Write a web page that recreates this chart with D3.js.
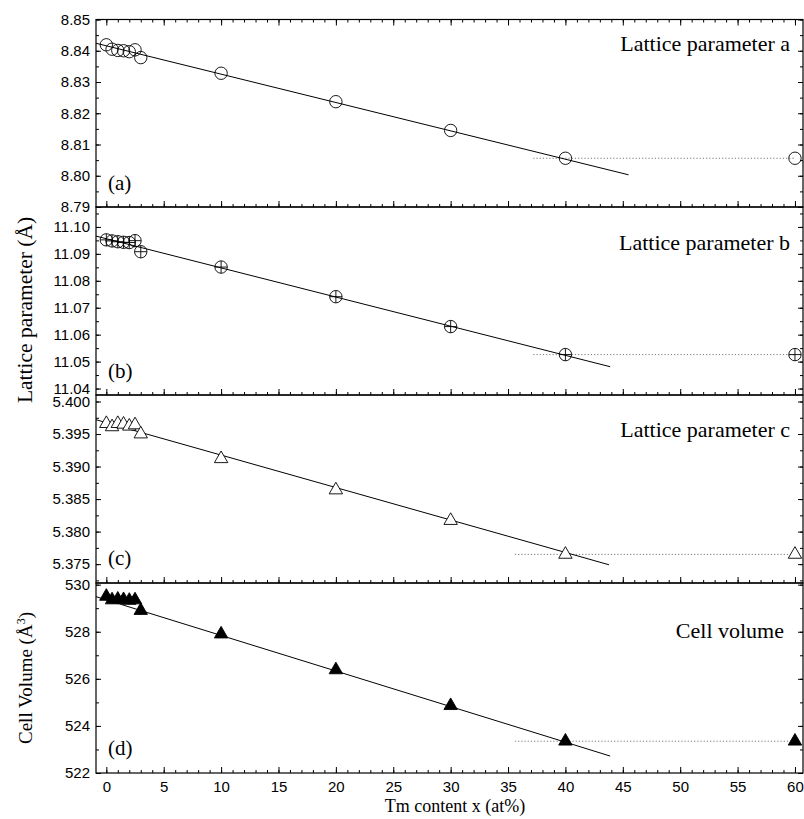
<!DOCTYPE html>
<html>
<head>
<meta charset="utf-8">
<script src="https://cdn.jsdelivr.net/npm/d3@7"></script>
<style>
  body { margin: 0; background: #fff; }
  svg text { fill: #000; }
</style>
</head>
<body>
<svg id="chart" width="804" height="819"></svg>
<script>
// Tm content (at%) of each sample
const tmContent = [0, 0.5, 1, 1.5, 2, 2.5, 3, 10, 20, 30, 40, 60];

// Refined lattice parameters (Å) and cell volume (Å^3)
const latticeA = [8.8419, 8.8405, 8.8401, 8.8400, 8.8397, 8.8403, 8.8378, 8.8328, 8.8237, 8.8145, 8.8056, 8.8056];
const latticeB = [11.0952, 11.0948, 11.0945, 11.0943, 11.0942, 11.0949, 11.0908, 11.0851, 11.0741, 11.0630, 11.0526, 11.0526];
const latticeC = [5.3966, 5.3961, 5.3966, 5.3965, 5.3962, 5.3964, 5.3950, 5.3912, 5.3864, 5.3817, 5.3765, 5.3765];
const cellVolume = [529.50, 529.35, 529.38, 529.36, 529.33, 529.35, 528.90, 527.90, 526.38, 524.86, 523.35, 523.35];

// Linear (Vegard) fits: [x, value] end points
const fitA = [[-0.9, 8.8424], [45.5, 8.8003]];
const fitB = [[-0.9, 11.0966], [43.9, 11.0481]];
const fitC = [[-0.9, 5.3972], [43.8, 5.3749]];
const fitV = [[-0.9, 529.49], [43.9, 522.72]];

// Solubility-limit plateaus (dotted)
const plateauA = [[37.2, 8.8056], [60, 8.8056]];
const plateauB = [[37.2, 11.0526], [60, 11.0526]];
const plateauC = [[35.6, 5.3765], [60, 5.3765]];
const plateauV = [[35.6, 523.35], [60, 523.35]];

// Tick values
const xMajorTicks = [0, 5, 10, 15, 20, 25, 30, 35, 40, 45, 50, 55, 60];
const xMinorTicks = d3.range(0, 61, 1);
const ticksA = [8.79, 8.80, 8.81, 8.82, 8.83, 8.84, 8.85];
const ticksB = [11.04, 11.05, 11.06, 11.07, 11.08, 11.09, 11.10];
const ticksC = [5.375, 5.380, 5.385, 5.390, 5.395, 5.400];
const ticksV = [522, 524, 526, 528, 530];

const svg = d3.select("#chart");
const left = 96, right = 803;
const x = d3.scaleLinear().domain([-0.9, 60.7]).range([left, right]);

const panels = [
  { values: latticeA, fit: fitA, plateau: plateauA, ticks: ticksA, minorStep: 0.005, fmt: d3.format(".2f"),
    domain: [8.79, 8.85], top: 19.5, bottom: 207, marker: "circle",
    title: "Lattice parameter a", titleX: 790, titleY: 51, tag: "(a)", tagY: 190, topTicks: true },
  { values: latticeB, fit: fitB, plateau: plateauB, ticks: ticksB, minorStep: 0.005, fmt: d3.format(".2f"),
    domain: [11.0376, 11.1074], top: 207, bottom: 395, marker: "circlePlus",
    title: "Lattice parameter b", titleX: 790, titleY: 250, tag: "(b)", tagY: 378 },
  { values: latticeC, fit: fitC, plateau: plateauC, ticks: ticksC, minorStep: 0.0025, fmt: d3.format(".3f"),
    domain: [5.3721, 5.4010], top: 395, bottom: 583, marker: "triangleOpen",
    title: "Lattice parameter c", titleX: 790, titleY: 437, tag: "(c)", tagY: 565 },
  { values: cellVolume, fit: fitV, plateau: plateauV, ticks: ticksV, minorStep: 1, fmt: d3.format("d"),
    domain: [522, 530.07], top: 583, bottom: 773, marker: "triangleFilled",
    title: "Cell volume", titleX: 784, titleY: 638, tag: "(d)", tagY: 755, xLabels: true }
];

const tickFont = "'Liberation Sans', Arial, sans-serif";
const serif = "'Liberation Serif', 'Times New Roman', serif";

function minorValues(domain, step) {
  const out = [];
  const start = Math.ceil(domain[0] / step - 1e-9);
  const end = Math.floor(domain[1] / step + 1e-9);
  for (let i = start; i <= end; i++) out.push(+(i * step).toFixed(6));
  return out;
}

function styleAxis(g) {
  g.select(".domain").remove();
  g.selectAll(".tick line").attr("stroke", "#000").attr("stroke-width", 1);
  g.selectAll(".tick text").attr("font-family", tickFont).attr("font-size", 15).attr("fill", "#000");
}

panels.forEach(p => {
  const y = d3.scaleLinear().domain(p.domain).range([p.bottom, p.top]);
  const g = svg.append("g");
  const minors = minorValues(p.domain, p.minorStep);

  // left axis (ticks point inward)
  g.append("g").attr("transform", `translate(${left},0)`)
    .call(d3.axisLeft(y).tickValues(minors).tickSize(-3).tickFormat(""))
    .call(styleAxis);
  g.append("g").attr("transform", `translate(${left},0)`)
    .call(d3.axisLeft(y).tickValues(p.ticks).tickFormat(p.fmt).tickSizeInner(-5).tickSizeOuter(0).tickPadding(6))
    .call(styleAxis);

  // right axis
  g.append("g").attr("transform", `translate(${right},0)`)
    .call(d3.axisRight(y).tickValues(minors).tickSize(-3).tickFormat(""))
    .call(styleAxis);
  g.append("g").attr("transform", `translate(${right},0)`)
    .call(d3.axisRight(y).tickValues(p.ticks).tickSize(-5).tickFormat(""))
    .call(styleAxis);

  // bottom axis
  g.append("g").attr("transform", `translate(0,${p.bottom})`)
    .call(d3.axisBottom(x).tickValues(xMinorTicks).tickSize(-3).tickFormat(""))
    .call(styleAxis);
  g.append("g").attr("transform", `translate(0,${p.bottom})`)
    .call(d3.axisBottom(x).tickValues(xMajorTicks).tickSizeInner(-6).tickSizeOuter(0).tickPadding(8)
      .tickFormat(p.xLabels ? d3.format("d") : ""))
    .call(styleAxis);

  if (p.topTicks) {
    g.append("g").attr("transform", `translate(0,${p.top})`)
      .call(d3.axisTop(x).tickValues(xMinorTicks).tickSize(-3).tickFormat(""))
      .call(styleAxis);
    g.append("g").attr("transform", `translate(0,${p.top})`)
      .call(d3.axisTop(x).tickValues(xMajorTicks).tickSize(-6).tickFormat(""))
      .call(styleAxis);
  }

  // frame
  g.append("rect")
    .attr("x", left).attr("y", p.top)
    .attr("width", right - left).attr("height", p.bottom - p.top)
    .attr("fill", "none").attr("stroke", "#000").attr("stroke-width", 1.2);

  const line = d3.line().x(d => x(d[0])).y(d => y(d[1]));

  // plateau beyond the solubility limit
  g.append("path").datum(p.plateau)
    .attr("d", line)
    .attr("fill", "none").attr("stroke", "#777").attr("stroke-width", 1)
    .attr("stroke-dasharray", "1.2,2");

  // linear fit
  g.append("path").datum(p.fit)
    .attr("d", line)
    .attr("fill", "none").attr("stroke", "#000").attr("stroke-width", 1);

  // markers
  const pts = tmContent.map((t, i) => [t, p.values[i]]);
  const m = g.append("g").selectAll("g").data(pts).join("g")
    .attr("transform", d => `translate(${x(d[0])},${y(d[1])})`);

  if (p.marker === "circle" || p.marker === "circlePlus") {
    m.append("circle").attr("r", 6.2)
      .attr("fill", "none").attr("stroke", "#000").attr("stroke-width", 0.9);
    if (p.marker === "circlePlus") {
      m.append("path").attr("d", "M-6.2,0H6.2M0,-6.2V6.2")
        .attr("stroke", "#000").attr("stroke-width", 0.9);
    }
  } else {
    const tri = d3.symbol(d3.symbolTriangle, 78);
    m.append("path").attr("d", tri)
      .attr("fill", p.marker === "triangleFilled" ? "#000" : "#fff")
      .attr("stroke", "#000").attr("stroke-width", 0.9);
  }

  // panel title and tag
  g.append("text").attr("x", p.titleX).attr("y", p.titleY)
    .attr("text-anchor", "end").attr("font-family", serif).attr("font-size", 22)
    .text(p.title);
  g.append("text").attr("x", 108).attr("y", p.tagY)
    .attr("font-family", serif).attr("font-size", 21)
    .text(p.tag);
});

// axis titles
svg.append("text")
  .attr("transform", "translate(32,310) rotate(-90)")
  .attr("text-anchor", "middle").attr("font-family", serif).attr("font-size", 21.5)
  .text("Lattice parameter (Å)");

const vt = svg.append("text")
  .attr("transform", "translate(32,678) rotate(-90)")
  .attr("text-anchor", "middle").attr("font-family", serif).attr("font-size", 19);
vt.append("tspan").text("Cell Volume (Å");
vt.append("tspan").attr("baseline-shift", "super").attr("font-size", 12).text("3");
vt.append("tspan").text(")");

svg.append("text")
  .attr("x", 455).attr("y", 812)
  .attr("text-anchor", "middle").attr("font-family", serif).attr("font-size", 18)
  .text("Tm content x (at%)");
</script>
</body>
</html>
